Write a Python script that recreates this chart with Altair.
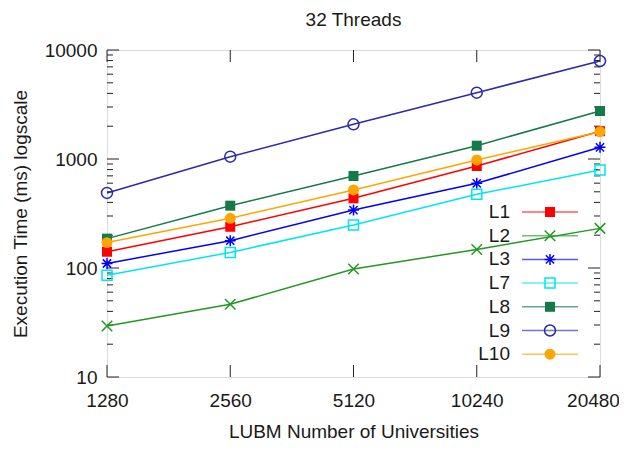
import altair as alt
import pandas as pd

universities = [1280, 2560, 5120, 10240, 20480]
series_names = ["L1", "L2", "L3", "L7", "L8", "L9", "L10"]
L1 = [141, 239, 436, 862, 1800]
L2 = [29.4, 46.5, 98, 148, 231]
L3 = [110, 178, 340, 598, 1280]
L7 = [86, 139, 248, 474, 793]
L8 = [186, 373, 698, 1325, 2755]
L9 = [488, 1050, 2080, 4060, 7930]
L10 = [171, 286, 520, 980, 1780]
series_values = {"L1": L1, "L2": L2, "L3": L3, "L7": L7, "L8": L8, "L9": L9, "L10": L10}

y_major = [10, 100, 1000, 10000]
y_minor = [m * d for d in (10, 100, 1000) for m in range(2, 10)]

FONT = "Liberation Sans"
FS = 19
TXT = "#1a1a1a"
W, H = 493, 327

CROSS = "M-1,-1L1,1M-1,1L1,-1"
STAR = "M-1,0L1,0M0,-1L0,1M-0.75,-0.75L0.75,0.75M-0.75,0.75L0.75,-0.75"
styles = {
    "L1": dict(color="#ff0000", shape="square", filled=True, size=100),
    "L2": dict(color="#229922", shape=CROSS, filled=False, size=110),
    "L3": dict(color="#0000ff", shape=STAR, filled=False, size=120),
    "L7": dict(color="#00e5ee", shape="square", filled=False, size=100),
    "L8": dict(color="#137a48", shape="square", filled=True, size=100),
    "L9": dict(color="#2a2aaa", shape="circle", filled=False, size=120),
    "L10": dict(color="#ffa500", shape="circle", filled=True, size=120),
}

xscale = alt.Scale(type="log", base=2, domain=[1280, 20480], nice=False)
yscale = alt.Scale(type="log", domain=[10, 10000], nice=False)
xaxis = alt.Axis(values=universities, format="d", ticks=False, domain=False, grid=False,
                 labelFont=FONT, labelFontSize=FS, labelColor=TXT, labelPadding=14,
                 labelOverlap=False, labelFlush=False,
                 labelOffset={"condition": {"test": "datum.value == 20480", "value": -7},
                              "value": 0},
                 title="LUBM Number of Universities", titleFont=FONT, titleFontSize=FS,
                 titleFontWeight="normal", titleColor=TXT, titlePadding=12)
yaxis = alt.Axis(values=y_major, format="d", ticks=False, domain=False, grid=False,
                 labelFont=FONT, labelFontSize=FS, labelColor=TXT, labelPadding=10,
                 labelOverlap=False, labelFlush=False,
                 title="Execution Time (ms) logscale", titleFont=FONT, titleFontSize=FS,
                 titleFontWeight="normal", titleColor=TXT, titlePadding=14)


def X(field):
    return alt.X(field, type="quantitative", scale=xscale, axis=xaxis)


def Y(field):
    return alt.Y(field, type="quantitative", scale=yscale, axis=yaxis)


layers = []

# ticks (inward, gnuplot style)
ymaj = pd.DataFrame({"v": y_major})
ymin = pd.DataFrame({"v": y_minor})
xmaj = pd.DataFrame({"v": universities})
tick = dict(color="#222222", strokeWidth=1)
layers.append(alt.Chart(ymaj).mark_rule(**tick).encode(y=Y("v"), x=alt.value(0), x2=alt.value(12)))
layers.append(alt.Chart(ymaj).mark_rule(**tick).encode(y=Y("v"), x=alt.value(W - 12), x2=alt.value(W)))
layers.append(alt.Chart(ymin).mark_rule(**tick).encode(y=Y("v"), x=alt.value(0), x2=alt.value(6)))
layers.append(alt.Chart(ymin).mark_rule(**tick).encode(y=Y("v"), x=alt.value(W - 6), x2=alt.value(W)))
layers.append(alt.Chart(xmaj).mark_rule(**tick).encode(x=X("v"), y=alt.value(H - 12), y2=alt.value(H)))
layers.append(alt.Chart(xmaj).mark_rule(**tick).encode(x=X("v"), y=alt.value(0), y2=alt.value(12)))

LEG_TEXT_X, LEG_L0, LEG_L1, LEG_SYM = 403, 415, 471, 443
LEG_Y0, LEG_DY = 162, 23.7

for i, name in enumerate(series_names):
    st = styles[name]
    df = pd.DataFrame({"x": universities, "y": series_values[name]})
    layers.append(alt.Chart(df).mark_line(color=st["color"], strokeWidth=1.5, clip=False)
                  .encode(x=X("x"), y=Y("y")))
    pt = dict(shape=st["shape"], size=st["size"], filled=st["filled"], color=st["color"],
              opacity=1, strokeWidth=1.5, clip=False)
    layers.append(alt.Chart(df).mark_point(**pt).encode(x=X("x"), y=Y("y")))
    # legend row
    ly = LEG_Y0 + i * LEG_DY
    ldf = pd.DataFrame({"series": [name]})
    layers.append(alt.Chart(ldf).mark_text(align="right", baseline="middle", font=FONT,
                                           fontSize=FS, color=TXT)
                  .encode(text="series:N", x=alt.value(LEG_TEXT_X), y=alt.value(ly)))
    layers.append(alt.Chart(ldf).mark_rule(color=st["color"], strokeWidth=1.5, opacity=0.65)
                  .encode(x=alt.value(LEG_L0), x2=alt.value(LEG_L1), y=alt.value(ly)))
    layers.append(alt.Chart(ldf).mark_point(**pt).encode(x=alt.value(LEG_SYM), y=alt.value(ly)))

chart = alt.layer(*layers).properties(
    width=W, height=H,
    title=alt.TitleParams("32 Threads", font=FONT, fontSize=FS, fontWeight="normal",
                          color=TXT, anchor="middle", frame="group", offset=11),
    autosize=alt.AutoSizeParams(type="none"),
    padding={"left": 99, "top": 42, "right": 19, "bottom": 65},
).configure_view(stroke="#111111", strokeWidth=1.5).configure(background="white")

chart.save("out.html", embed_options={"renderer": "svg", "actions": False})
